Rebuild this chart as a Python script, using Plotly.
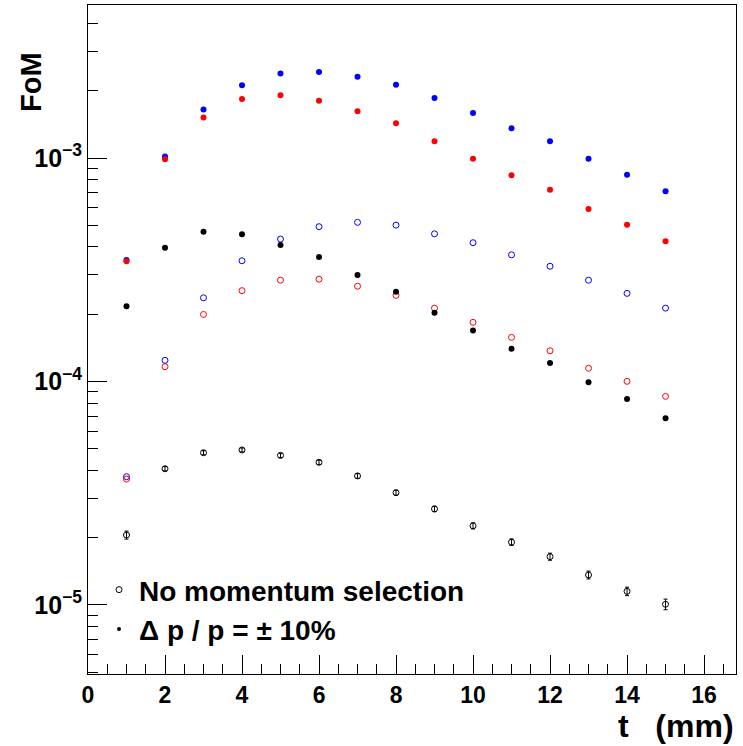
import plotly.graph_objects as go

t = [1, 2, 3, 4, 5, 6, 7, 8, 9, 10, 11, 12, 13, 14, 15]

blue_sel = [3.50e-4, 1.015e-3, 1.65e-3, 2.12e-3, 2.39e-3, 2.43e-3, 2.31e-3, 2.13e-3,
            1.855e-3, 1.59e-3, 1.36e-3, 1.19e-3, 9.93e-4, 8.42e-4, 7.10e-4]
red_sel = [3.45e-4, 9.87e-4, 1.52e-3, 1.84e-3, 1.91e-3, 1.805e-3, 1.62e-3, 1.43e-3,
           1.19e-3, 9.93e-4, 8.37e-4, 7.21e-4, 5.91e-4, 5.03e-4, 4.24e-4]
black_sel = [2.17e-4, 3.97e-4, 4.68e-4, 4.56e-4, 4.08e-4, 3.61e-4, 3.00e-4, 2.52e-4,
             2.03e-4, 1.69e-4, 1.40e-4, 1.21e-4, 9.92e-5, 8.35e-5, 6.84e-5]
blue_all = [3.75e-5, 1.244e-4, 2.37e-4, 3.47e-4, 4.34e-4, 4.93e-4, 5.155e-4, 5.01e-4,
            4.58e-4, 4.18e-4, 3.69e-4, 3.28e-4, 2.84e-4, 2.48e-4, 2.13e-4]
red_all = [3.66e-5, 1.165e-4, 1.995e-4, 2.55e-4, 2.84e-4, 2.87e-4, 2.67e-4, 2.43e-4,
           2.13e-4, 1.84e-4, 1.576e-4, 1.373e-4, 1.146e-4, 1.002e-4, 8.58e-5]
black_all = [2.056e-5, 4.07e-5, 4.80e-5, 4.94e-5, 4.67e-5, 4.35e-5, 3.78e-5, 3.18e-5,
             2.69e-5, 2.26e-5, 1.91e-5, 1.645e-5, 1.362e-5, 1.151e-5, 1.007e-5]
black_all_err = [0.85e-6, 0.9e-6, 1.0e-6, 1.0e-6, 1.0e-6, 0.95e-6, 0.9e-6, 0.8e-6,
                 0.75e-6, 0.7e-6, 0.65e-6, 0.6e-6, 0.55e-6, 0.5e-6, 0.55e-6]

x_ticks = [0, 2, 4, 6, 8, 10, 12, 14, 16]
y_ticks = [1e-5, 1e-4, 1e-3]
y_ticktext = ["10<sup>\u22125</sup>", "10<sup>\u22124</sup>", "10<sup>\u22123</sup>"]

legend_names = ["No momentum selection", "\u0394 p / p = \u00b1 10%"]

FONT = "Liberation Sans, Arial, Helvetica, sans-serif"

fig = go.Figure()

def open_trace(y, color, err=None):
    kw = dict(x=t, y=y, mode="markers", showlegend=False,
              marker=dict(symbol="circle-open", size=6, color=color, line=dict(width=1, color=color)))
    if err is not None:
        kw["error_y"] = dict(type="data", array=err, visible=True, color=color, thickness=1, width=2)
    return go.Scatter(**kw)

def filled_trace(y, color):
    return go.Scatter(x=t, y=y, mode="markers", showlegend=False,
                      marker=dict(symbol="circle", size=6, color=color, line=dict(width=0)))

fig.add_trace(open_trace(black_all, "black", black_all_err))
fig.add_trace(open_trace(blue_all, "blue"))
fig.add_trace(open_trace(red_all, "red"))
fig.add_trace(filled_trace(black_sel, "black"))
fig.add_trace(filled_trace(blue_sel, "blue"))
fig.add_trace(filled_trace(red_sel, "red"))

# legend entries
fig.add_trace(go.Scatter(x=[None], y=[None], mode="markers", name=legend_names[0],
                         marker=dict(symbol="circle-open", size=6, color="black", line=dict(width=1))))
fig.add_trace(go.Scatter(x=[None], y=[None], mode="markers", name=legend_names[1],
                         marker=dict(symbol="circle", size=4, color="black")))

fig.update_layout(
    width=743, height=746,
    margin=dict(l=88, r=7, t=5, b=72),
    paper_bgcolor="white", plot_bgcolor="white",
    font=dict(family=FONT, color="black"),
    showlegend=True,
    legend=dict(x=0.017, y=0.163, xanchor="left", yanchor="top",
                bgcolor="rgba(0,0,0,0)", borderwidth=0,
                font=dict(family=FONT, size=28, weight="bold", color="black"),
                itemsizing="trace", tracegroupgap=0),
)

fig.update_xaxes(
    range=[0, 16.83], showgrid=False, zeroline=False,
    showline=True, linecolor="black", linewidth=1, mirror=True,
    ticks="inside", ticklen=19, tickcolor="black",
    tickvals=x_ticks, ticktext=[str(v) for v in x_ticks],
    tickfont=dict(family=FONT, size=23, weight="bold", color="black"),
    minor=dict(ticks="inside", ticklen=10, dtick=0.5, tick0=0, tickcolor="black", showgrid=False),
)

fig.update_yaxes(
    type="log", range=[-5.309, -2.315], showgrid=False, zeroline=False,
    showline=True, linecolor="black", linewidth=1, mirror=True,
    ticks="inside", ticklen=19, tickcolor="black",
    tickvals=y_ticks, ticktext=y_ticktext,
    tickfont=dict(family=FONT, size=25, weight="bold", color="black"),
    minor=dict(ticks="inside", ticklen=10, dtick="D1", tickcolor="black", showgrid=False),
)

fig.add_annotation(text="t\u00a0\u00a0\u00a0(mm)", xref="paper", yref="paper",
                   x=1.0, y=-0.078, xanchor="right", yanchor="middle", showarrow=False,
                   font=dict(family=FONT, size=32, weight="bold", color="black"))
fig.add_annotation(text="FoM", xref="paper", yref="paper", textangle=-90,
                   x=-0.088, y=0.885, xanchor="center", yanchor="middle", showarrow=False,
                   font=dict(family=FONT, size=29, weight="bold", color="black"))

fig.write_html("out.html")
